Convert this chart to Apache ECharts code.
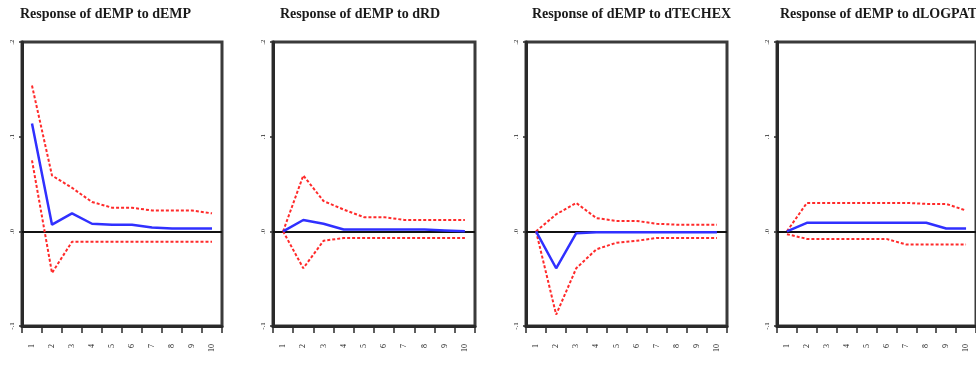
<!DOCTYPE html>
<html>
<head>
<meta charset="utf-8">
<script src="https://cdn.jsdelivr.net/npm/echarts@6/dist/echarts.min.js"></script>
<style>html,body{margin:0;padding:0;background:#fff}#c{width:976px;height:365px}</style>
</head>
<body>
<div id="c"></div>
<script>
const periods = ['1','2','3','4','5','6','7','8','9','10'];
const yTicks = [-0.1, 0, 0.1, 0.2];
const titles = ['Response of dEMP to dEMP','Response of dEMP to dRD','Response of dEMP to dTECHEX','Response of dEMP to dLOGPAT'];

const empResp  = [0.114, 0.007, 0.019, 0.008, 0.007, 0.007, 0.004, 0.003, 0.003, 0.003];
const empUpper = [0.154, 0.059, 0.046, 0.031, 0.025, 0.025, 0.022, 0.022, 0.022, 0.019];
const empLower = [0.075, -0.044, -0.011, -0.011, -0.011, -0.011, -0.011, -0.011, -0.011, -0.011];

const rdResp  = [0.000, 0.012, 0.008, 0.002, 0.002, 0.002, 0.002, 0.002, 0.001, 0.000];
const rdUpper = [0.000, 0.059, 0.032, 0.023, 0.015, 0.015, 0.012, 0.012, 0.012, 0.012];
const rdLower = [0.000, -0.039, -0.010, -0.007, -0.007, -0.007, -0.007, -0.007, -0.007, -0.007];

const techResp  = [0.000, -0.039, -0.002, -0.001, -0.001, -0.001, -0.001, -0.001, -0.001, -0.001];
const techUpper = [0.000, 0.018, 0.030, 0.014, 0.011, 0.011, 0.008, 0.007, 0.007, 0.007];
const techLower = [0.000, -0.088, -0.039, -0.019, -0.012, -0.010, -0.007, -0.007, -0.007, -0.007];

const patResp  = [0.000, 0.009, 0.009, 0.009, 0.009, 0.009, 0.009, 0.009, 0.003, 0.003];
const patUpper = [0.000, 0.030, 0.030, 0.030, 0.030, 0.030, 0.030, 0.029, 0.029, 0.022];
const patLower = [-0.003, -0.008, -0.008, -0.008, -0.008, -0.008, -0.014, -0.014, -0.014, -0.014];

const panels = [
  {resp: empResp, upper: empUpper, lower: empLower},
  {resp: rdResp, upper: rdUpper, lower: rdLower},
  {resp: techResp, upper: techUpper, lower: techLower},
  {resp: patResp, upper: patUpper, lower: patLower}
];
const gridLefts = [22, 273, 526, 777];
const gridWidths = [200, 202, 201, 200];
const titleLefts = [15, 275, 527, 775];

function yFmt(v){
  const r = Math.round(v*10);
  if (r === 0) return '.0';
  return (r < 0 ? '-' : '') + '.' + Math.abs(r);
}

const option = {
  animation: false,
  backgroundColor: '#fff',
  title: titles.map((t,i)=>({
    text: t, left: titleLefts[i], top: 2,
    textStyle: {fontFamily: 'Liberation Serif', fontWeight: 'bold', fontSize: 14, color: '#1a1a1a'}
  })),
  grid: gridLefts.map((l,i)=>({
    left: l, top: 42, width: gridWidths[i], height: 284,
    show: true, borderColor: '#3a3a3a', borderWidth: 3, backgroundColor: '#fff'
  })),
  xAxis: panels.map((p,i)=>({
    type: 'category', gridIndex: i, data: periods, boundaryGap: true,
    axisLine: {onZero: false, lineStyle: {color: '#2a2a2a', width: 3}},
    axisTick: {show: true, length: 7, lineStyle: {color: '#2a2a2a', width: 1.5}},
    axisLabel: {rotate: 90, fontSize: 8, color: '#222', margin: 18, fontFamily: 'Liberation Serif'},
    splitLine: {show: false}
  })),
  yAxis: panels.map((p,i)=>({
    type: 'value', gridIndex: i, min: -0.1, max: 0.2, interval: 0.1,
    axisLine: {show: true, lineStyle: {color: '#2a2a2a', width: 3}},
    axisTick: {show: true, length: 3, lineStyle: {color: '#2a2a2a', width: 1.5}},
    axisLabel: {rotate: 90, fontSize: 7, color: '#222', margin: 6, formatter: yFmt, fontFamily: 'Liberation Serif'},
    splitLine: {show: false}
  })),
  series: []
};

panels.forEach((p,i)=>{
  option.series.push({
    type: 'line', xAxisIndex: i, yAxisIndex: i, data: p.upper, symbol: 'none',
    lineStyle: {color: '#ff2a2a', width: 2, type: [3,2]}, z: 3
  });
  option.series.push({
    type: 'line', xAxisIndex: i, yAxisIndex: i, data: p.lower, symbol: 'none',
    lineStyle: {color: '#ff2a2a', width: 2, type: [3,2]}, z: 3
  });
  option.series.push({
    type: 'line', xAxisIndex: i, yAxisIndex: i, data: p.resp, symbol: 'none',
    lineStyle: {color: '#3030ff', width: 2.5}, z: 4,
    markLine: {silent: true, symbol: 'none', label: {show: false},
      lineStyle: {color: '#111', width: 2, type: 'solid'}, data: [{yAxis: 0}], z: 2}
  });
});

const chart = echarts.init(document.getElementById('c'), null, {renderer: 'canvas'});
chart.setOption(option);
</script>
</body>
</html>
